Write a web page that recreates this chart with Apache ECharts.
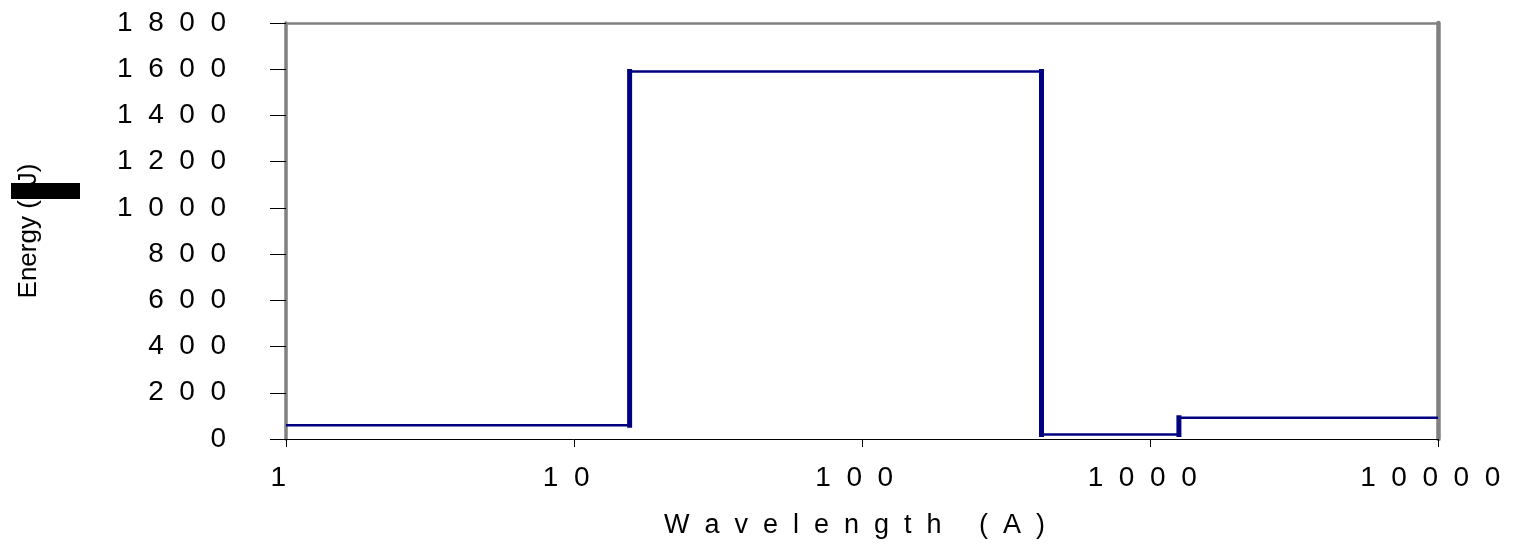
<!DOCTYPE html>
<html>
<head>
<meta charset="utf-8">
<script src="https://cdn.jsdelivr.net/npm/echarts@6/dist/echarts.min.js"></script>
<style>
  html, body { margin: 0; padding: 0; background: #fff; }
  #chart { width: 1517px; height: 546px; }
</style>
</head>
<body>
<div id="chart"></div>
<script>
// 阶跃边界（波长，A）与各段能量
const edges = [15.6, 420, 1260];
const levels = [60, 1590, 20, 92];
const xRange = [1, 10000];
const yTicks = [0, 1800, 200]; // min, max, interval

const FONT = 'Liberation Sans, Arial, sans-serif';
const NAVY = '#000080';
const GRAY = '#808080';

// 字符间留两个空格，仿原图的稀疏排版
const spaced = (s, trail) => s.split('').join('  ') + (trail ? '  ' : '');

// 阶梯折线：水平段
const stepData = [[xRange[0], levels[0]]];
edges.forEach((e, i) => stepData.push([e, levels[i + 1]]));
stepData.push([xRange[1], levels[levels.length - 1]]);

// 垂直段单独画粗一点
const verticals = edges.map((e, i) => ({
  type: 'line', xAxisIndex: 0, yAxisIndex: 0,
  data: [[e, levels[i]], [e, levels[i + 1]]],
  symbol: 'none', silent: true,
  lineStyle: { color: NAVY, width: 5, cap: 'square' },
}));

const chart = echarts.init(document.getElementById('chart'));
chart.setOption({
  animation: false,
  backgroundColor: '#fff',
  grid: { left: 286, right: 79, top: 23, bottom: 107, outerBoundsMode: 'none' },
  xAxis: [{
    type: 'log', logBase: 10, min: xRange[0], max: xRange[1],
    position: 'bottom',
    name: spaced('Wavelength (A)', true),
    nameLocation: 'middle', nameGap: 73,
    nameTextStyle: { color: '#000', fontFamily: FONT, fontSize: 27 },
    axisLine: { onZero: false, lineStyle: { color: '#000', width: 1 } },
    axisTick: { length: 8, lineStyle: { color: '#000' } },
    minorTick: { show: false },
    splitLine: { show: false },
    axisLabel: {
      color: '#000', fontFamily: FONT, fontSize: 28, margin: 25,
      formatter: v => spaced(String(Math.round(v)), true),
    },
  }, {
    type: 'log', logBase: 10, min: xRange[0], max: xRange[1],
    position: 'top',
    axisLine: { show: true, onZero: false, lineStyle: { color: GRAY, width: 2.5 } },
    axisTick: { show: false }, axisLabel: { show: false }, splitLine: { show: false },
  }],
  yAxis: [{
    type: 'value', min: yTicks[0], max: yTicks[1], interval: yTicks[2],
    position: 'left',
    name: 'Energy (μJ)',
    nameLocation: 'middle', nameGap: 244,
    nameTextStyle: { color: '#000', fontFamily: FONT, fontSize: 26 },
    axisLine: { show: true, onZero: false, lineStyle: { color: GRAY, width: 3.5 } },
    axisTick: { show: true, length: 16, lineStyle: { color: '#000' } },
    splitLine: { show: false },
    axisLabel: {
      color: '#000', fontFamily: FONT, fontSize: 28, margin: 60,
      formatter: v => spaced(String(v)),
    },
  }, {
    type: 'value', min: yTicks[0], max: yTicks[1], interval: yTicks[2],
    position: 'right',
    axisLine: { show: true, onZero: false, lineStyle: { color: GRAY, width: 4.5 } },
    axisTick: { show: false }, axisLabel: { show: false }, splitLine: { show: false },
  }],
  graphic: [{
    type: 'rect', left: 11, top: 183, z: 100,
    shape: { width: 69, height: 16 },
    style: { fill: '#000' },
  }],
  series: [{
    type: 'line', xAxisIndex: 0, yAxisIndex: 0,
    data: stepData, step: 'end', symbol: 'none', silent: true,
    lineStyle: { color: NAVY, width: 2.5 },
  }, ...verticals],
});
</script>
</body>
</html>
